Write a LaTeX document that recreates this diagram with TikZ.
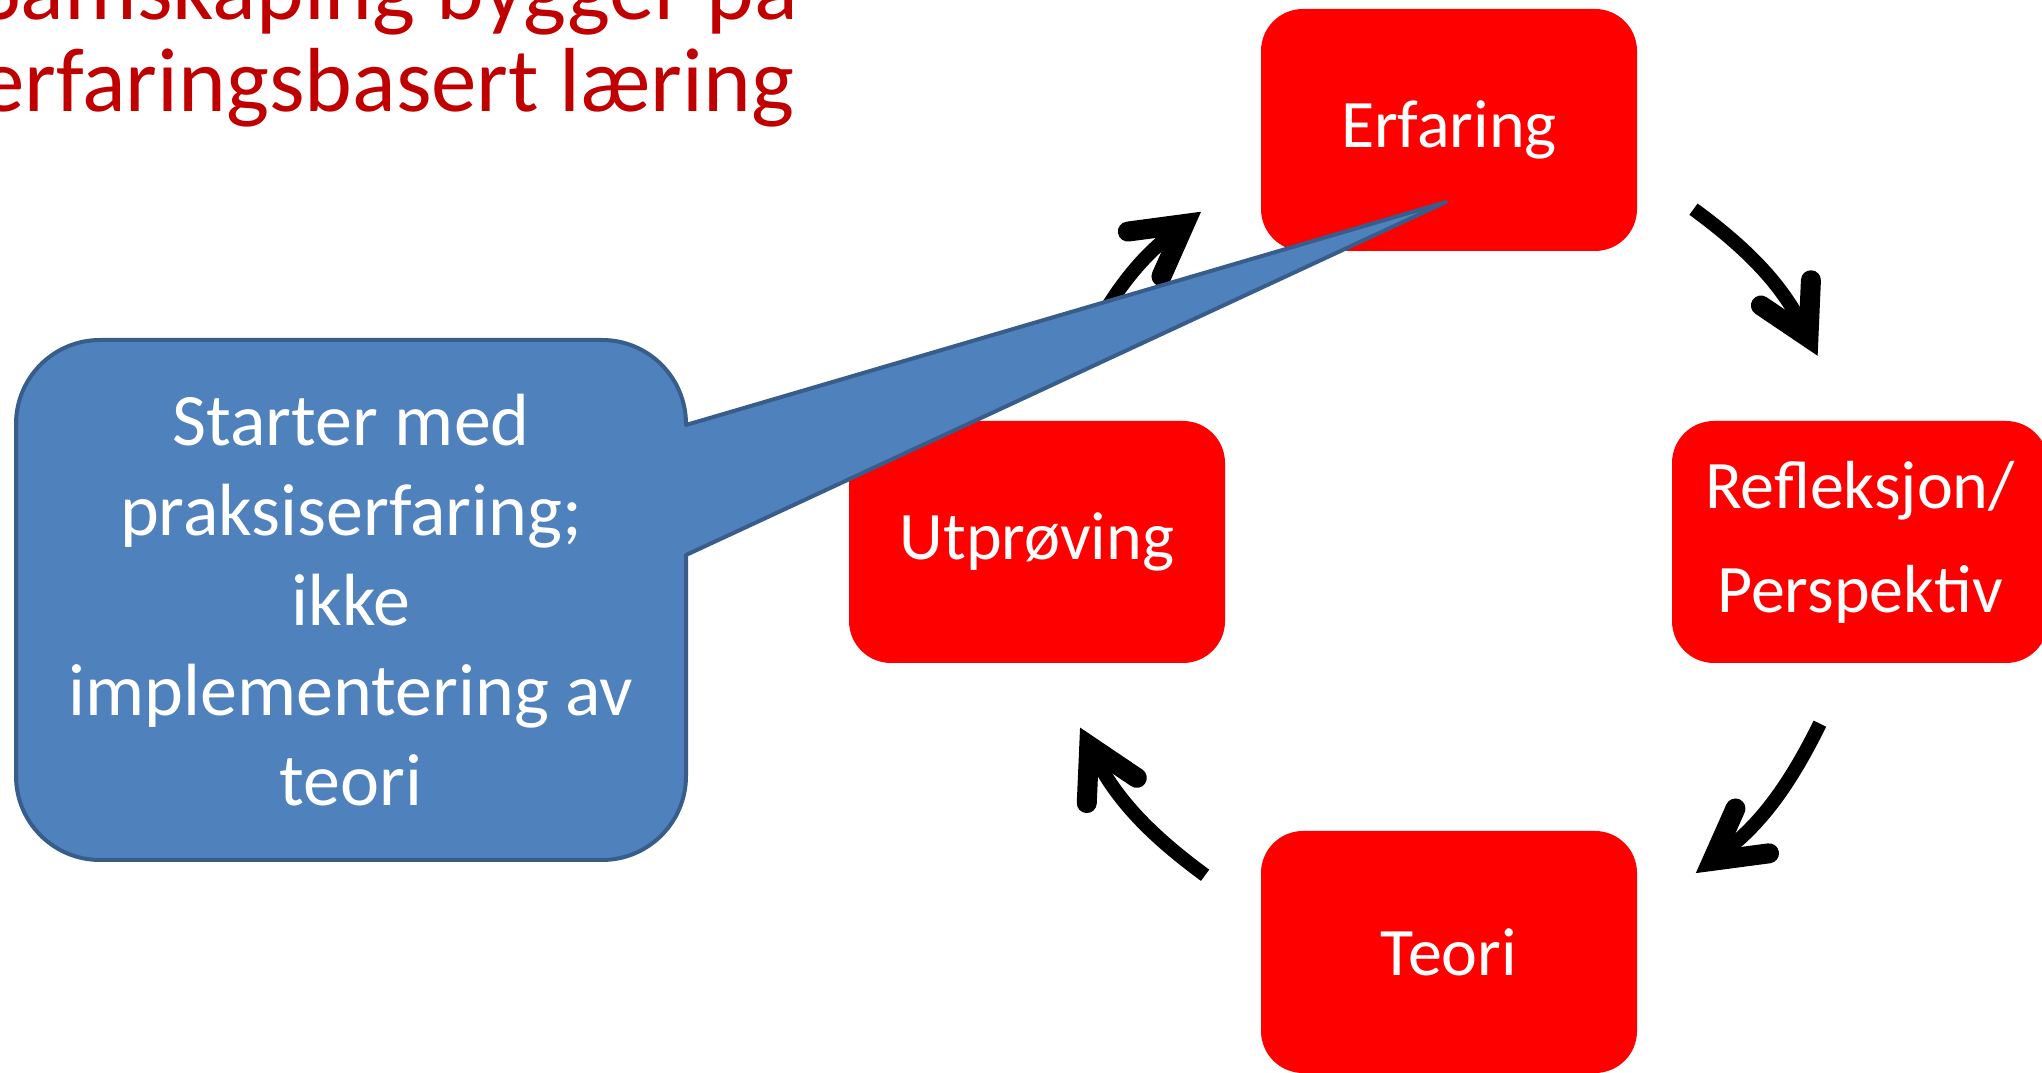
\documentclass[tikz,border=0pt]{standalone}
\usepackage{fontspec}
\setmainfont{Carlito}
\usetikzlibrary{arrows.meta,calc}
\definecolor{boxred}{HTML}{FF0000}
\definecolor{titlered}{HTML}{C00000}
\definecolor{calloutfill}{HTML}{4F81BD}
\definecolor{calloutline}{HTML}{385D8A}
\begin{document}
\begin{tikzpicture}[x=1pt,y=1pt,
  stage/.style={draw=none, fill=boxred, rounded corners=42pt,
    minimum width=376pt, minimum height=242pt, text=white,
    font=\fontsize{68}{104}\selectfont, align=center, inner sep=0pt},
  cyc/.style={line width=14pt,
    -{Straight Barb[length=50pt 0, width=56pt 0, line width=20pt 0, line cap=round, line join=miter]}},
  callout/.style={fill=calloutfill, draw=calloutline, line width=4pt, line join=round},
  callouttext/.style={text=white, align=center, inner sep=0pt,
    font=\fontsize{74}{90}\selectfont},
  titletext/.style={text=titlered, align=left, inner sep=0pt,
    font=\fontsize{91}{92}\selectfont}]
\useasboundingbox (0,0) rectangle (2042,1073);
% stages
\node[stage] (erf) at (1449,943) {Erfaring};
\node[stage] (ref) at (1860,531) {Refleksjon/\\Perspektiv};
\node[stage] (utp) at (1037,531) {Utprøving};
\node[stage] (teo) at (1449,121) {Teori};
% cycle arrows
\coordinate (o) at (1449,531);
\coordinate (a1s) at ($(o)+(153.8:413)$);
\coordinate (a1e) at ($(o)+(126.9:413)$);
\coordinate (a2s) at ($(o)+(53.7:413)$);
\coordinate (a2e) at ($(o)+(26.8:413)$);
\coordinate (a3s) at ($(o)+(-26.1:413)$);
\coordinate (a3e) at ($(o)+(-53.3:413)$);
\coordinate (a4s) at ($(o)+(-126.2:413)$);
\coordinate (a4e) at ($(o)+(-153.3:413)$);
\draw[cyc] (a1s) to[bend left=13.5] (a1e);
\draw[cyc] (a2s) to[bend left=13.5] (a2e);
\draw[cyc] (a3s) to[bend left=13.5] (a3e);
\draw[cyc] (a4s) to[bend left=13.5] (a4e);
% callout
\coordinate (tip) at (1446,871);
\path[callout] (686,648) -- (686,649)
  arc[start angle=0, end angle=90, radius=84] -- (100,733)
  arc[start angle=90, end angle=180, radius=84] -- (16,297)
  arc[start angle=180, end angle=270, radius=84] -- (602,213)
  arc[start angle=270, end angle=360, radius=84] -- (686,518)
  -- (tip) -- cycle;
\node[callouttext] (cal) at (351,473)
  {Starter med\\praksiserfaring;\\ikke\\implementering av\\teori};
% title
\node[titletext, anchor=base west] (title) at (-21,961)
  {Samskaping bygger på\\erfaringsbasert læring};
\end{tikzpicture}
\end{document}
